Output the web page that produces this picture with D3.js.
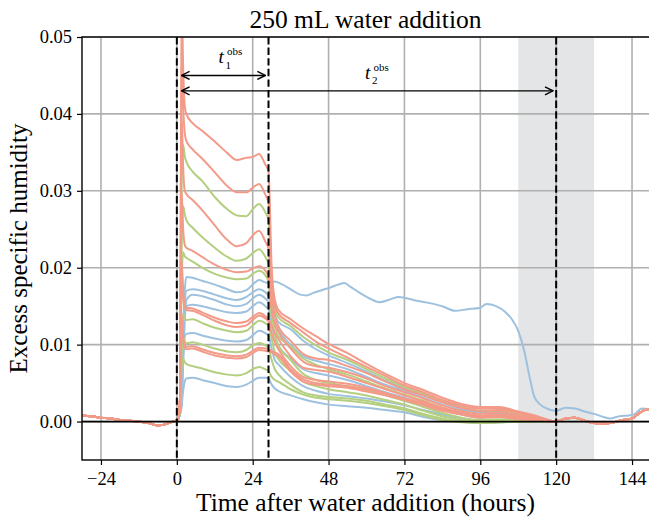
<!DOCTYPE html>
<html><head><meta charset="utf-8">
<script src="https://cdn.jsdelivr.net/npm/d3@7"></script>
<style>
body{margin:0;background:#fff}
svg text{font-family:"Liberation Serif","DejaVu Serif",serif !important;fill:#000}
</style>
</head><body>
<svg id="chart" width="649" height="521"></svg>
<script>
// ---------------- DATA ----------------
const xTicks = [-24, 0, 24, 48, 72, 96, 120, 144];
const yTicks = [0, 0.01, 0.02, 0.03, 0.04, 0.05];
const eventTimes = [0, 29, 120];
const bandRange = [108, 132];
const titleText = "250 mL water addition";
const xLabel = "Time after water addition (hours)";
const yLabel = "Excess specific humidity";

// shared baseline before the addition (all runs overlap)
const preTimes  = [-30, -27, -24, -21, -18, -15, -12, -9, -6, -4, -2, 0, 0.5];
const preValues = [0.0008, 0.0007, 0.0005, 0.0004, 0.0002, 0.0001, 0.0000, -0.0002, -0.0005, -0.0004, -0.0001, 0.0002, 0.0004];

// time grid of the individual runs
const mainTimes = [1, 1.5, 2, 2.5, 3, 5, 8, 12, 16, 19, 22, 24, 26, 28, 29, 30, 31, 32, 36, 40, 44, 48, 54, 60, 66, 72, 78, 84, 90, 96, 102, 108, 114];

// shared tail after the runs merged
const tailTimes  = [120, 123, 126, 129, 132, 135, 138, 141, 144, 146, 148, 150];
const tailValues = [0.0000, 0.0004, 0.0005, 0.0001, -0.0002, -0.0003, -0.0001, 0.0002, 0.0004, 0.0010, 0.0015, 0.0016];

// salmon runs
const s1 = [0.003,0.056,0.046,0.041, 0.0400,0.0388,0.0378,0.0364,0.0349,0.0340,0.0343,0.0344,0.0348,0.0334, 0.0325,0.0200,0.0158, 0.0146,0.0133,0.0121,0.0111,0.0101,0.0089,0.0075,0.0062,0.0050,0.0041,0.0031,0.0023,0.0019, 0.0019,0.0013,0.0007];
const s2 = [0.003,0.048,0.041,0.0375, 0.0365,0.0354,0.0342,0.0324,0.0306,0.0298,0.0298,0.0304,0.0309,0.0295, 0.0285,0.0185,0.0152, 0.0141,0.0128,0.0116,0.0104,0.0095,0.0083,0.0071,0.0059,0.0047,0.0038,0.0028,0.0021,0.0017, 0.0017,0.0012,0.0006];
const s3 = [0.003,0.040,0.033,0.030, 0.0296,0.0288,0.0275,0.0255,0.0236,0.0228,0.0232,0.0242,0.0248,0.0234, 0.0225,0.0165,0.0138, 0.0125,0.0105,0.0088,0.0082,0.0080,0.0072,0.0063,0.0052,0.0042,0.0034,0.0025,0.0018,0.0014, 0.0015,0.0011,0.0005];
const s4 = [0.003,0.030,0.025,0.023, 0.0226,0.0222,0.0214,0.0204,0.0197,0.0194,0.0195,0.0199,0.0202,0.0196, 0.0188,0.0145,0.0128, 0.0118,0.0095,0.0078,0.0072,0.0070,0.0064,0.0056,0.0046,0.0038,0.0030,0.0021,0.0014,0.0010, 0.0012,0.0008,0.0004];
const s5 = [0.003,0.021,0.017,0.015, 0.0148,0.0147,0.0142,0.0135,0.0130,0.0128,0.0130,0.0136,0.0141,0.0137, 0.0133,0.0125,0.0115, 0.0108,0.0085,0.0070,0.0067,0.0065,0.0058,0.0050,0.0042,0.0034,0.0026,0.0018,0.0012,0.0008, 0.0009,0.0006,0.0003];
const s6 = [0.003,0.020,0.016,0.0148, 0.0145,0.0144,0.0139,0.0131,0.0125,0.0123,0.0125,0.0132,0.0138,0.0134, 0.0130,0.0115,0.0103, 0.0095,0.0072,0.0058,0.0054,0.0052,0.0049,0.0044,0.0037,0.0030,0.0024,0.0016,0.0010,0.0007, 0.0008,0.0005,0.0002];
const s7 = [0.003,0.014,0.011,0.0099, 0.0097,0.0098,0.0094,0.0089,0.0086,0.0085,0.0087,0.0092,0.0096,0.0095, 0.0094,0.0092,0.0090, 0.0088,0.0068,0.0055,0.0050,0.0048,0.0046,0.0042,0.0036,0.0029,0.0022,0.0015,0.0010,0.0006, 0.0007,0.0004,0.0002];
const s8 = [0.003,0.013,0.0105,0.0096, 0.0094,0.0095,0.0091,0.0086,0.0083,0.0082,0.0084,0.0089,0.0093,0.0092, 0.0091,0.0090,0.0087, 0.0085,0.0065,0.0052,0.0048,0.0046,0.0044,0.0039,0.0034,0.0028,0.0021,0.0014,0.0009,0.0005, 0.0006,0.0003,0.0001];
// green runs
const g1 = [0.002,0.030,0.036,0.0345, 0.0338,0.0325,0.0313,0.0292,0.0276,0.0268,0.0267,0.0276,0.0283,0.0272, 0.0262,0.0175,0.0146, 0.0136,0.0124,0.0110,0.0099,0.0090,0.0080,0.0068,0.0056,0.0045,0.0036,0.0026,0.0019,0.0014, 0.0014,0.0010,0.0005];
const g2 = [0.002,0.022,0.028,0.027, 0.0262,0.0252,0.0240,0.0226,0.0214,0.0209,0.0212,0.0219,0.0224,0.0214, 0.0205,0.0145,0.0124, 0.0112,0.0098,0.0082,0.0074,0.0068,0.0061,0.0052,0.0043,0.0035,0.0027,0.0018,0.0011,0.0007, 0.0008,0.0005,0.0002];
const g3 = [0.002,0.018,0.022,0.0215, 0.0213,0.0208,0.0200,0.0192,0.0187,0.0185,0.0186,0.0192,0.0196,0.0190, 0.0182,0.0135,0.0112, 0.0100,0.0080,0.0062,0.0054,0.0050,0.0046,0.0041,0.0034,0.0027,0.0019,0.0011,0.0005,0.0002, 0.0003,0.0002,0.0001];
const g4 = [0.002,0.011,0.014,0.0134, 0.0132,0.0133,0.0128,0.0122,0.0118,0.0116,0.0118,0.0125,0.0131,0.0128, 0.0124,0.0108,0.0090, 0.0082,0.0066,0.0052,0.0046,0.0042,0.0038,0.0034,0.0028,0.0022,0.0014,0.0007,0.0002,0.0000, 0.0001,0.0000,0.0000];
const g5 = [0.002,0.009,0.011,0.0104, 0.0102,0.0103,0.0100,0.0095,0.0091,0.0090,0.0093,0.0099,0.0102,0.0099, 0.0096,0.0080,0.0068, 0.0062,0.0048,0.0038,0.0034,0.0032,0.0030,0.0027,0.0022,0.0017,0.0010,0.0004,0.0000,-0.0001, -0.0001,0.0000,0.0000];
const g6 = [0.002,0.007,0.0082,0.0077, 0.0075,0.0072,0.0069,0.0064,0.0061,0.0060,0.0063,0.0068,0.0071,0.0068, 0.0066,0.0058,0.0054, 0.0052,0.0042,0.0035,0.0031,0.0029,0.0027,0.0024,0.0020,0.0015,0.0008,0.0002,-0.0001,-0.0002, -0.0001,0.0000,0.0000];
// blue runs
const b2 = [0.001,0.003,0.010,0.015, 0.0170,0.0172,0.0170,0.0165,0.0160,0.0158,0.0162,0.0168,0.0172,0.0168, 0.0163,0.0150,0.0138, 0.0130,0.0120,0.0105,0.0094,0.0086,0.0076,0.0065,0.0053,0.0043,0.0034,0.0025,0.0017,0.0013, 0.0013,0.0009,0.0004];
const b3 = [0.001,0.002,0.008,0.013, 0.0158,0.0165,0.0163,0.0158,0.0152,0.0150,0.0153,0.0160,0.0165,0.0160, 0.0155,0.0140,0.0128, 0.0120,0.0100,0.0085,0.0079,0.0075,0.0068,0.0058,0.0048,0.0040,0.0031,0.0022,0.0015,0.0011, 0.0011,0.0007,0.0003];
const b4 = [0.001,0.003,0.011,0.014, 0.0150,0.0152,0.0150,0.0146,0.0142,0.0141,0.0143,0.0150,0.0155,0.0150, 0.0146,0.0125,0.0110, 0.0100,0.0082,0.0068,0.0063,0.0060,0.0054,0.0046,0.0038,0.0031,0.0023,0.0015,0.0009,0.0005, 0.0006,0.0004,0.0002];
const b5 = [0.001,0.003,0.008,0.011, 0.0114,0.0115,0.0112,0.0108,0.0105,0.0104,0.0106,0.0112,0.0118,0.0115, 0.0112,0.0095,0.0080, 0.0075,0.0058,0.0046,0.0040,0.0036,0.0033,0.0030,0.0026,0.0021,0.0015,0.0009,0.0004,0.0001, 0.0002,0.0001,0.0000];
const b6 = [0.001,0.002,0.004,0.0052, 0.0056,0.0057,0.0054,0.0050,0.0046,0.0045,0.0048,0.0053,0.0057,0.0057, 0.0056,0.0048,0.0043, 0.0040,0.0034,0.0029,0.0025,0.0022,0.0020,0.0018,0.0015,0.0012,0.0006,0.0002,0.0000,-0.0002, -0.0001,0.0000,0.0000];

// the one blue run that stayed humid for longer
const outlierTimes  = [1,1.5,2,2.5,3,5,8,12,16,19,22,24,26,28,29,31,33,36,39,41,43,46,49,51,53,55,58,61,64,67,70,73,76,80,84,88,92,96,98,101,104,106,108,110,111,112,113,115,117,120,123,126,129,132,135,137,140,143,145,147,150];
const outlierValues = [0.001,0.003,0.012,0.017,0.0188,0.0187,0.0183,0.0178,0.0172,0.0168,0.0171,0.0178,0.0184,0.0181,0.0180,0.0182,0.0179,0.0172,0.0165,0.0164,0.0167,0.0171,0.0175,0.0178,0.0180,0.0175,0.0167,0.0160,0.0155,0.0158,0.0162,0.0160,0.0157,0.0154,0.0150,0.0144,0.0146,0.0148,0.0153,0.0150,0.0142,0.0133,0.0118,0.0090,0.0070,0.0050,0.0033,0.0022,0.0017,0.0014,0.0018,0.0017,0.0013,0.0010,0.0006,0.0004,0.0007,0.0008,0.0010,0.0017,0.0016];

const blueRuns   = [b2, b3, b4, b5, b6];
const greenRuns  = [g1, g2, g3, g4, g5, g6];
const salmonRuns = [s1, s2, s3, s4, s5, s6, s7, s8];

// annotation arrows: [start, end, level]
const arrowT1 = [1.5, 28, 0.045];
const arrowT2 = [1.5, 119, 0.043];

// ---------------- CHART ----------------
const SERIF = '"Liberation Serif","DejaVu Serif",serif';
const m = {left: 82, top: 37, right: 651, bottom: 460};
const svg = d3.select("#chart");
const x = d3.scaleLinear().domain([-30, 150]).range([m.left, m.right]);
const y = d3.scaleLinear().domain([-0.005, 0.05]).range([m.bottom, m.top]);

const COLORS = {salmon: "#f39a88", green: "#b3cf7f", blue: "#9dc1de"};

const defs = svg.append("defs");
defs.append("clipPath").attr("id", "clip")
  .append("rect").attr("x", m.left).attr("y", m.top)
  .attr("width", m.right - m.left).attr("height", m.bottom - m.top);

// band
svg.append("rect")
  .attr("x", x(bandRange[0])).attr("y", m.top)
  .attr("width", x(bandRange[1]) - x(bandRange[0])).attr("height", m.bottom - m.top)
  .attr("fill", "#e4e5e7");

// grid
const grid = svg.append("g").attr("stroke", "#b0b0b0").attr("stroke-width", 1.6);
xTicks.forEach(t => grid.append("line").attr("x1", x(t)).attr("x2", x(t)).attr("y1", m.top).attr("y2", m.bottom));
yTicks.forEach(t => grid.append("line").attr("x1", m.left).attr("x2", m.right).attr("y1", y(t)).attr("y2", y(t)));

// lines
const line = d3.line().x(d => x(d[0])).y(d => y(d[1])).curve(d3.curveMonotoneX);
const buildRun = vals => {
  const pts = preTimes.map((t, i) => [t, preValues[i]]);
  mainTimes.forEach((t, i) => pts.push([t, vals[i]]));
  tailTimes.forEach((t, i) => pts.push([t, tailValues[i]]));
  return pts;
};
const lines = svg.append("g").attr("clip-path", "url(#clip)")
  .attr("fill", "none").attr("stroke-width", 2).attr("stroke-linejoin", "round");
const outlierPts = preTimes.map((t, i) => [t, preValues[i]]).concat(outlierTimes.map((t, i) => [t, outlierValues[i]]));
lines.append("path").attr("d", line(outlierPts)).attr("stroke", COLORS.blue);
blueRuns.forEach(r => lines.append("path").attr("d", line(buildRun(r))).attr("stroke", COLORS.blue));
greenRuns.forEach(r => lines.append("path").attr("d", line(buildRun(r))).attr("stroke", COLORS.green));
salmonRuns.forEach(r => lines.append("path").attr("d", line(buildRun(r))).attr("stroke", COLORS.salmon));

// zero line
svg.append("line").attr("x1", m.left).attr("x2", m.right).attr("y1", y(0)).attr("y2", y(0))
  .attr("stroke", "#000").attr("stroke-width", 1.8);

// dashed event lines
eventTimes.forEach(t => svg.append("line")
  .attr("x1", x(t)).attr("x2", x(t)).attr("y1", m.top).attr("y2", m.bottom)
  .attr("stroke", "#000").attr("stroke-width", 2).attr("stroke-dasharray", "7.4,3.2"));

// arrows
defs.append("marker").attr("id", "arr").attr("viewBox", "0 0 10 10")
  .attr("refX", 9).attr("refY", 5).attr("markerWidth", 10).attr("markerHeight", 10)
  .attr("markerUnits", "userSpaceOnUse").attr("orient", "auto-start-reverse")
  .append("path").attr("d", "M1,1 L9,5 L1,9").attr("fill", "none").attr("stroke", "#000").attr("stroke-width", 1.4);
[arrowT1, arrowT2].forEach(a => svg.append("line")
  .attr("x1", x(a[0])).attr("x2", x(a[1])).attr("y1", y(a[2])).attr("y2", y(a[2]))
  .attr("stroke", "#000").attr("stroke-width", 1.4)
  .attr("marker-start", "url(#arr)").attr("marker-end", "url(#arr)"));

function tLabel(px, py, sub) {
  svg.append("text").attr("x", px).attr("y", py).style("font-size", "19px").style("font-style", "italic").text("t");
  svg.append("text").attr("x", px + 8.5).attr("y", py - 8).style("font-size", "11px").text("obs");
  svg.append("text").attr("x", px + 7).attr("y", py + 5.5).style("font-size", "11px").text(sub);
}
tLabel(x(13.2), y(arrowT1[2]) - 12, "1");
tLabel(x(59.5), y(arrowT2[2]) - 12, "2");

// axes
const fmtX = d => d < 0 ? "\u2212" + Math.abs(d) : String(d);
const xAxis = svg.append("g").attr("transform", `translate(0,${m.bottom})`)
  .call(d3.axisBottom(x).tickValues(xTicks).tickFormat(fmtX).tickSize(5).tickPadding(7));
const yAxis = svg.append("g").attr("transform", `translate(${m.left},0)`)
  .call(d3.axisLeft(y).tickValues(yTicks).tickFormat(d3.format(".2f")).tickSize(5).tickPadding(5));
[xAxis, yAxis].forEach(a => {
  a.attr("font-family", null).attr("font-size", null);
  a.selectAll("text").style("font-size", "18.5px").style("font-family", SERIF).attr("fill", "#000");
  a.selectAll("line").attr("stroke", "#000").attr("stroke-width", 1.2);
  a.select(".domain").remove();
});
// spines
svg.append("rect").attr("x", m.left).attr("y", m.top).attr("width", m.right - m.left).attr("height", m.bottom - m.top)
  .attr("stroke", "#000").attr("stroke-width", 1.4).attr("fill", "none");

// titles
svg.append("text").attr("x", (m.left + 649) / 2).attr("y", 28).attr("text-anchor", "middle")
  .style("font-size", "25.5px").text(titleText);
svg.append("text").attr("x", (m.left + 649) / 2).attr("y", 511).attr("text-anchor", "middle")
  .style("font-size", "25.5px").text(xLabel);
svg.append("text").attr("transform", `translate(27,${(m.top + m.bottom) / 2}) rotate(-90)`)
  .attr("text-anchor", "middle").style("font-size", "25px").text(yLabel);
</script>
</body></html>
